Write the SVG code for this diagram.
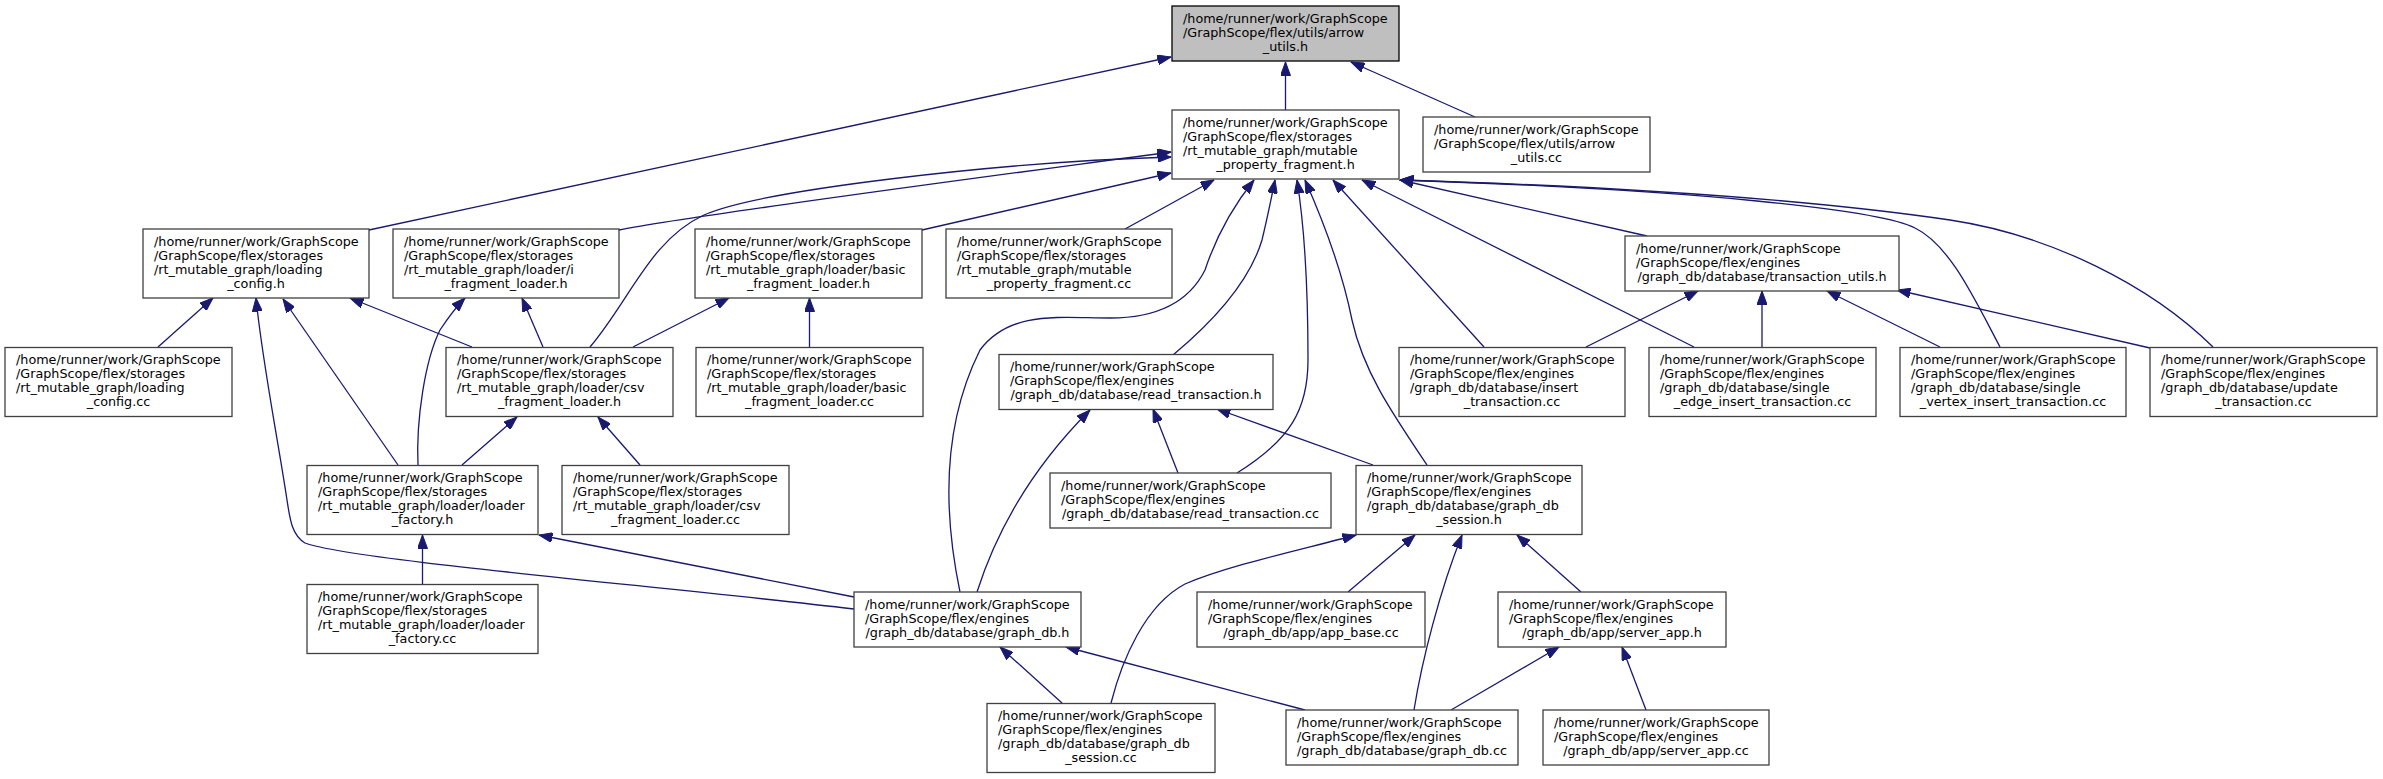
<svg xmlns="http://www.w3.org/2000/svg" width="2383" height="779" viewBox="0 0 2383 779">
<style>
.n rect{fill:#ffffff;stroke:#404040;stroke-width:1.3}
.n text{font-family:"DejaVu Sans","Liberation Sans",sans-serif;font-size:12.75px;fill:#000}
.n text.c{text-anchor:middle}
#n1 rect{fill:#bfbfbf;stroke:#000}
.e path{fill:none;stroke:#191970;stroke-width:1.3;marker-end:url(#ah)}
</style>
<defs>
<marker id="ah" markerUnits="userSpaceOnUse" markerWidth="14" markerHeight="10" refX="13.5" refY="5" orient="auto">
<path d="M0,0 L13.5,5 L0,10 z" fill="#191970" stroke="#191970" stroke-width="1"/>
</marker>
</defs>
<rect width="2383" height="779" fill="#ffffff"/>
<g id="edges" class="e">
<path d="M369,230 L1171,57"/>
<path d="M1285.5,110 L1285.5,62"/>
<path d="M1475,117 L1351,62"/>
<path d="M619,230 C700,214 1000,175 1171,152"/>
<path d="M590,347 C630,300 650,240 704,215 C760,190 1000,162 1171,157"/>
<path d="M922,230 L1171,173"/>
<path d="M1125,229 L1214,180"/>
<path d="M960,592 C945,520 940,430 980,350 C1010,310 1060,318 1110,318 C1160,318 1190,300 1205,270 C1215,240 1230,210 1254,180"/>
<path d="M1173,355 C1215,320 1250,280 1262,240 C1268,215 1272,195 1275,180"/>
<path d="M1237,473 C1290,440 1308,410 1308,360 C1308,290 1305,230 1297,180"/>
<path d="M1427,465 C1390,410 1363,370 1352,320 C1342,270 1325,225 1305,180"/>
<path d="M1484,347 L1333,180"/>
<path d="M1694,347 L1362,180"/>
<path d="M1647,236 L1400,180"/>
<path d="M2000,347 C1975,300 1950,245 1915,228 C1880,210 1700,190 1400,180"/>
<path d="M2213,347 C2150,285 2050,235 1950,220 C1800,198 1600,186 1400,180"/>
<path d="M1586,347 L1698,291"/>
<path d="M1762,347 L1762,291"/>
<path d="M1940,347 L1827,291"/>
<path d="M2150,348 L1897,290"/>
<path d="M158,347 L213,298"/>
<path d="M854,609 C650,585 350,560 305,543 C292,535 290,520 287,500 C278,440 262,360 256,298"/>
<path d="M398,465 L283,299"/>
<path d="M472,347 L350,298"/>
<path d="M418,465 C416,420 425,360 440,330 C450,315 458,305 465,298"/>
<path d="M543,347 L522,298"/>
<path d="M633,347 L729,298"/>
<path d="M809.5,347 L809.5,298"/>
<path d="M462,465 L517,417"/>
<path d="M640,465 L598,417"/>
<path d="M422.5,584 L422.5,535"/>
<path d="M854,597 L539,535"/>
<path d="M977,592 C1000,520 1040,460 1090,410"/>
<path d="M1178,473 L1153,409"/>
<path d="M1373,465 L1217,409"/>
<path d="M1111,703 C1122,660 1145,605 1185,584 C1230,565 1300,550 1356,535"/>
<path d="M1348,592 L1415,535"/>
<path d="M1414,710 C1422,660 1440,590 1462,535"/>
<path d="M1581,592 L1517,535"/>
<path d="M1451,710 L1559,647"/>
<path d="M1646,710 L1622,647"/>
<path d="M1062,703 L1000,647"/>
<path d="M1305,710 L1066,647"/>
</g>
<g id="n1" class="n"><rect x="1172" y="6" width="227" height="55"/><text x="1183" y="22.5">/home/runner/work/GraphScope</text><text x="1183" y="36.5">/GraphScope/flex/utils/arrow</text><text class="c" x="1285.5" y="50.5">_utils.h</text></g>
<g id="n2" class="n"><rect x="1172" y="110" width="227" height="69"/><text x="1183" y="126.5">/home/runner/work/GraphScope</text><text x="1183" y="140.5">/GraphScope/flex/storages</text><text x="1183" y="154.5">/rt_mutable_graph/mutable</text><text class="c" x="1285.5" y="168.5">_property_fragment.h</text></g>
<g id="n3" class="n"><rect x="1423" y="117" width="227" height="55"/><text x="1434" y="133.5">/home/runner/work/GraphScope</text><text x="1434" y="147.5">/GraphScope/flex/utils/arrow</text><text class="c" x="1536.5" y="161.5">_utils.cc</text></g>
<g id="n4" class="n"><rect x="143" y="229" width="226" height="69"/><text x="154" y="245.5">/home/runner/work/GraphScope</text><text x="154" y="259.5">/GraphScope/flex/storages</text><text x="154" y="273.5">/rt_mutable_graph/loading</text><text class="c" x="256" y="287.5">_config.h</text></g>
<g id="n5" class="n"><rect x="393" y="229" width="226" height="69"/><text x="404" y="245.5">/home/runner/work/GraphScope</text><text x="404" y="259.5">/GraphScope/flex/storages</text><text x="404" y="273.5">/rt_mutable_graph/loader/i</text><text class="c" x="506" y="287.5">_fragment_loader.h</text></g>
<g id="n6" class="n"><rect x="695" y="229" width="227" height="69"/><text x="706" y="245.5">/home/runner/work/GraphScope</text><text x="706" y="259.5">/GraphScope/flex/storages</text><text x="706" y="273.5">/rt_mutable_graph/loader/basic</text><text class="c" x="808.5" y="287.5">_fragment_loader.h</text></g>
<g id="n7" class="n"><rect x="946" y="229" width="226" height="69"/><text x="957" y="245.5">/home/runner/work/GraphScope</text><text x="957" y="259.5">/GraphScope/flex/storages</text><text x="957" y="273.5">/rt_mutable_graph/mutable</text><text class="c" x="1059" y="287.5">_property_fragment.cc</text></g>
<g id="n8" class="n"><rect x="1625" y="236" width="274" height="55"/><text x="1636" y="252.5">/home/runner/work/GraphScope</text><text x="1636" y="266.5">/GraphScope/flex/engines</text><text class="c" x="1762" y="280.5">/graph_db/database/transaction_utils.h</text></g>
<g id="n9" class="n"><rect x="5" y="347.5" width="227" height="69"/><text x="16" y="364">/home/runner/work/GraphScope</text><text x="16" y="378">/GraphScope/flex/storages</text><text x="16" y="392">/rt_mutable_graph/loading</text><text class="c" x="118.5" y="406">_config.cc</text></g>
<g id="n10" class="n"><rect x="446" y="347.5" width="227" height="69"/><text x="457" y="364">/home/runner/work/GraphScope</text><text x="457" y="378">/GraphScope/flex/storages</text><text x="457" y="392">/rt_mutable_graph/loader/csv</text><text class="c" x="559.5" y="406">_fragment_loader.h</text></g>
<g id="n11" class="n"><rect x="696" y="347.5" width="227" height="69"/><text x="707" y="364">/home/runner/work/GraphScope</text><text x="707" y="378">/GraphScope/flex/storages</text><text x="707" y="392">/rt_mutable_graph/loader/basic</text><text class="c" x="809.5" y="406">_fragment_loader.cc</text></g>
<g id="n12" class="n"><rect x="999" y="354.5" width="274" height="55"/><text x="1010" y="371">/home/runner/work/GraphScope</text><text x="1010" y="385">/GraphScope/flex/engines</text><text class="c" x="1136" y="399">/graph_db/database/read_transaction.h</text></g>
<g id="n13" class="n"><rect x="1399" y="347.5" width="226" height="69"/><text x="1410" y="364">/home/runner/work/GraphScope</text><text x="1410" y="378">/GraphScope/flex/engines</text><text x="1410" y="392">/graph_db/database/insert</text><text class="c" x="1512" y="406">_transaction.cc</text></g>
<g id="n14" class="n"><rect x="1649" y="347.5" width="227" height="69"/><text x="1660" y="364">/home/runner/work/GraphScope</text><text x="1660" y="378">/GraphScope/flex/engines</text><text x="1660" y="392">/graph_db/database/single</text><text class="c" x="1762.5" y="406">_edge_insert_transaction.cc</text></g>
<g id="n15" class="n"><rect x="1900" y="347.5" width="226" height="69"/><text x="1911" y="364">/home/runner/work/GraphScope</text><text x="1911" y="378">/GraphScope/flex/engines</text><text x="1911" y="392">/graph_db/database/single</text><text class="c" x="2013" y="406">_vertex_insert_transaction.cc</text></g>
<g id="n16" class="n"><rect x="2150" y="347.5" width="227" height="69"/><text x="2161" y="364">/home/runner/work/GraphScope</text><text x="2161" y="378">/GraphScope/flex/engines</text><text x="2161" y="392">/graph_db/database/update</text><text class="c" x="2263.5" y="406">_transaction.cc</text></g>
<g id="n17" class="n"><rect x="307" y="465.5" width="231" height="69"/><text x="318" y="482">/home/runner/work/GraphScope</text><text x="318" y="496">/GraphScope/flex/storages</text><text x="318" y="510">/rt_mutable_graph/loader/loader</text><text class="c" x="422.5" y="524">_factory.h</text></g>
<g id="n18" class="n"><rect x="562" y="465.5" width="227" height="69"/><text x="573" y="482">/home/runner/work/GraphScope</text><text x="573" y="496">/GraphScope/flex/storages</text><text x="573" y="510">/rt_mutable_graph/loader/csv</text><text class="c" x="675.5" y="524">_fragment_loader.cc</text></g>
<g id="n19" class="n"><rect x="1050" y="473" width="281" height="55"/><text x="1061" y="489.5">/home/runner/work/GraphScope</text><text x="1061" y="503.5">/GraphScope/flex/engines</text><text class="c" x="1190.5" y="517.5">/graph_db/database/read_transaction.cc</text></g>
<g id="n20" class="n"><rect x="1356" y="465.5" width="226" height="69"/><text x="1367" y="482">/home/runner/work/GraphScope</text><text x="1367" y="496">/GraphScope/flex/engines</text><text x="1367" y="510">/graph_db/database/graph_db</text><text class="c" x="1469" y="524">_session.h</text></g>
<g id="n21" class="n"><rect x="307" y="584.5" width="231" height="69"/><text x="318" y="601">/home/runner/work/GraphScope</text><text x="318" y="615">/GraphScope/flex/storages</text><text x="318" y="629">/rt_mutable_graph/loader/loader</text><text class="c" x="422.5" y="643">_factory.cc</text></g>
<g id="n22" class="n"><rect x="854" y="592" width="227" height="55"/><text x="865" y="608.5">/home/runner/work/GraphScope</text><text x="865" y="622.5">/GraphScope/flex/engines</text><text class="c" x="967.5" y="636.5">/graph_db/database/graph_db.h</text></g>
<g id="n23" class="n"><rect x="1197" y="592" width="228" height="55"/><text x="1208" y="608.5">/home/runner/work/GraphScope</text><text x="1208" y="622.5">/GraphScope/flex/engines</text><text class="c" x="1311" y="636.5">/graph_db/app/app_base.cc</text></g>
<g id="n24" class="n"><rect x="1498" y="592" width="228" height="55"/><text x="1509" y="608.5">/home/runner/work/GraphScope</text><text x="1509" y="622.5">/GraphScope/flex/engines</text><text class="c" x="1612" y="636.5">/graph_db/app/server_app.h</text></g>
<g id="n25" class="n"><rect x="987" y="703.5" width="228" height="69"/><text x="998" y="720">/home/runner/work/GraphScope</text><text x="998" y="734">/GraphScope/flex/engines</text><text x="998" y="748">/graph_db/database/graph_db</text><text class="c" x="1101" y="762">_session.cc</text></g>
<g id="n26" class="n"><rect x="1286" y="710" width="232" height="55"/><text x="1297" y="726.5">/home/runner/work/GraphScope</text><text x="1297" y="740.5">/GraphScope/flex/engines</text><text class="c" x="1402" y="754.5">/graph_db/database/graph_db.cc</text></g>
<g id="n27" class="n"><rect x="1543" y="710" width="226" height="55"/><text x="1554" y="726.5">/home/runner/work/GraphScope</text><text x="1554" y="740.5">/GraphScope/flex/engines</text><text class="c" x="1656" y="754.5">/graph_db/app/server_app.cc</text></g>
</svg>
